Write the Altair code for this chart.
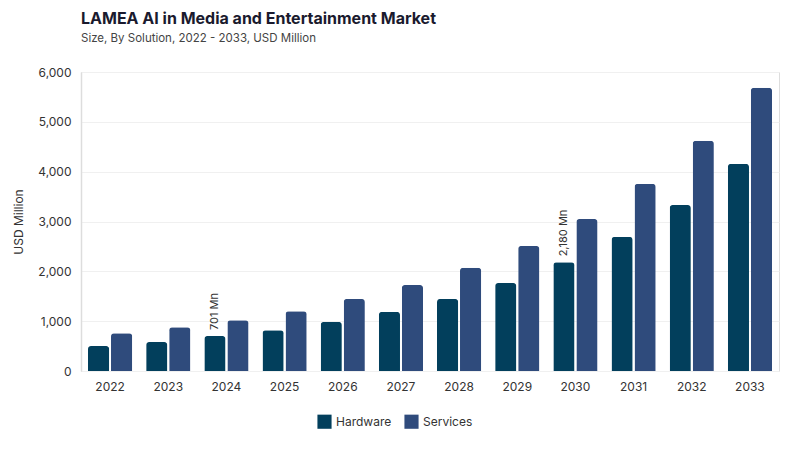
import altair as alt
import pandas as pd

years = ["2022", "2023", "2024", "2025", "2026", "2027", "2028", "2029", "2030", "2031", "2032", "2033"]
hardware = [500, 580, 701, 820, 985, 1185, 1445, 1765, 2180, 2690, 3330, 4155]
services = [760, 880, 1020, 1200, 1445, 1725, 2070, 2510, 3050, 3755, 4620, 5685]
series_names = ["Hardware", "Services"]
colors = ["#023f5c", "#2f4b7c"]
labels = {"2024": "701 Mn", "2030": "2,180 Mn"}

rows = []
for i, y in enumerate(years):
    rows.append({"year": y, "series": "Hardware", "value": hardware[i], "label": labels.get(y, "")})
    rows.append({"year": y, "series": "Services", "value": services[i], "label": ""})
df = pd.DataFrame(rows)

FONT = "Inter"

x = alt.X("year:N", title=None, sort=years,
          scale=alt.Scale(paddingInner=0.24, paddingOuter=0.12),
          axis=alt.Axis(labelAngle=0, labelFontSize=12, labelColor="#333333", labelPadding=10,
                        ticks=False, domain=False, labelFont=FONT))
xo = alt.XOffset("series:N", sort=series_names, scale=alt.Scale(paddingInner=0.08))
y = alt.Y("value:Q", title="USD Million",
          scale=alt.Scale(domain=[0, 6000]),
          axis=alt.Axis(values=[0, 1000, 2000, 3000, 4000, 5000, 6000], format=",.0f",
                        labelFontSize=12, labelColor="#333333", labelPadding=10,
                        ticks=False, domain=True, domainColor="#dddddd", domainWidth=1.5,
                        gridColor="#f0f0f0", titleFontSize=12, titleFontWeight="normal",
                        titleColor="#333333", titlePadding=12, labelFont=FONT, titleFont=FONT))

base = alt.Chart(df).encode(x=x, xOffset=xo, y=y)

bars = base.mark_bar(cornerRadiusTopLeft=3, cornerRadiusTopRight=3).encode(
    color=alt.Color("series:N", sort=series_names,
                    scale=alt.Scale(domain=series_names, range=colors),
                    legend=alt.Legend(title=None, orient="none", direction="horizontal",
                                      legendX=236, legendY=342, symbolType="square",
                                      symbolSize=200, symbolStrokeWidth=0, labelFontSize=12,
                                      labelColor="#333333", columnPadding=12, labelFont=FONT)),
)

text = base.transform_filter(alt.datum.label != "").mark_text(
    angle=270, align="left", baseline="middle", dx=6, fontSize=11, color="#333333", font=FONT
).encode(
    text="label:N",
)

chart = alt.layer(bars, text).properties(
    width=698, height=299,
    title=alt.TitleParams(
        text="LAMEA AI in Media and Entertainment Market",
        subtitle="Size, By Solution, 2022 - 2033, USD Million",
        anchor="start", frame="group", fontSize=16, fontWeight="bold", color="#1a1a2e",
        subtitleFontSize=11.5, subtitleColor="#444444", subtitlePadding=6, offset=22,
        font=FONT, subtitleFont=FONT,
    ),
    autosize=alt.AutoSizeParams(type="none"),
    padding={"left": 73, "top": 64, "right": 13, "bottom": 79},
).configure_view(strokeWidth=0).configure(background="white")

chart.save("out.html", embed_options={"renderer": "svg", "actions": False})
